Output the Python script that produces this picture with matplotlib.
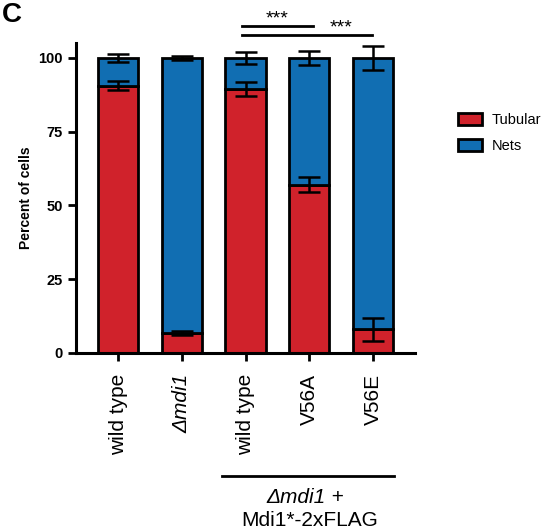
import numpy as np
import matplotlib.pyplot as plt
from matplotlib.patches import Patch
from matplotlib.transforms import blended_transform_factory

plt.rcParams["font.family"] = ["Liberation Sans", "DejaVu Sans"]

# data (percent of cells)
labels = ["wild type", "Δmdi1", "wild type", "V56A", "V56E"]
italic_labels = ["Δmdi1"]
tubular = [90.5, 6.8, 89.5, 57.0, 8.0]
tubular_sd = [1.5, 0.8, 2.3, 2.5, 4.0]
nets = [9.5, 93.2, 10.5, 43.0, 92.0]
nets_sd = [1.4, 0.6, 2.0, 2.4, 4.0]
sig_pairs = [(2, 3), (2, 4)]
sig_text = ["***", "***"]

RED = "#d0222b"
BLUE = "#116eb2"

fig = plt.figure(figsize=(5.45, 5.31), dpi=100)
ax = fig.add_axes([76 / 545, 1 - 353 / 531, (415 - 76) / 545, (353 - 43) / 531])

x = np.arange(len(labels))
w = 0.63
tub = np.array(tubular)
net = np.array(nets)
ax.bar(x, tub, w, color=RED, edgecolor="black", linewidth=2, zorder=2, label="Tubular")
ax.bar(x, net, w, bottom=tub, color=BLUE, edgecolor="black", linewidth=2, zorder=2, label="Nets")
ekw = dict(fmt="none", ecolor="black", elinewidth=1.8, capsize=8, capthick=1.8, zorder=3)
ax.errorbar(x, tub, yerr=tubular_sd, **ekw)
ax.errorbar(x, tub + net, yerr=nets_sd, **ekw)

ax.set_xlim(-0.66, 4.66)
ax.set_ylim(0, 105)
ax.set_yticks([0, 25, 50, 75, 100])
ax.set_xticks(x)
ax.set_xticklabels(labels, rotation=90, fontsize=15, va="top", ha="center")
for t in ax.get_xticklabels():
    if t.get_text() in italic_labels:
        t.set_fontstyle("italic")
for t in ax.get_yticklabels():
    t.set_fontweight("bold")
ax.tick_params(axis="y", labelsize=10.5, width=2, length=6)
ax.tick_params(axis="x", width=2, length=6, pad=9)
for s in ["top", "right"]:
    ax.spines[s].set_visible(False)
for s in ["left", "bottom"]:
    ax.spines[s].set_linewidth(2.2)
ax.spines["left"].set_bounds(0, 105)
ax.set_ylabel("Percent of cells", fontsize=10, fontweight="bold", labelpad=4)

# significance bars
for (a, b), txt, yl in zip(sig_pairs, sig_text, [110.8, 107.8]):
    ax.plot([a - 0.06, b + (0.06 if b == 3 else -0.02)], [yl, yl], color="black", lw=2, clip_on=False)
    ax.text((a + b) / 2 if b == 3 else 3.5, yl - 0.5, txt, ha="center", va="bottom",
            fontsize=14, clip_on=False)

# group annotation
tr = blended_transform_factory(ax.transData, ax.transAxes)
ax.plot([1.63, 4.33], [-0.396, -0.396], color="black", lw=2, transform=tr, clip_on=False)
ax.text(3.26, -0.466, "Δmdi1", transform=tr, ha="right", va="center", fontsize=15, fontstyle="italic")
ax.text(3.26, -0.466, " +", transform=tr, ha="left", va="center", fontsize=15)
ax.text(3.0, -0.54, "Mdi1*-2xFLAG", transform=tr, ha="center", va="center", fontsize=15)

handles = [Patch(facecolor=RED, edgecolor="black", linewidth=2, label="Tubular"),
           Patch(facecolor=BLUE, edgecolor="black", linewidth=2, label="Nets")]
fig.legend(handles=handles, loc="upper left", bbox_to_anchor=(451 / 545, 1 - 106 / 531),
           frameon=False, fontsize=10.5, handlelength=1.6, handleheight=0.9,
           labelspacing=0.8, handletextpad=0.7, borderaxespad=0, borderpad=0.5)

fig.text(2 / 545, 1 - 2 / 531, "C", fontsize=20, fontweight="bold", ha="left", va="top")

fig.savefig("out.png", dpi=100)
